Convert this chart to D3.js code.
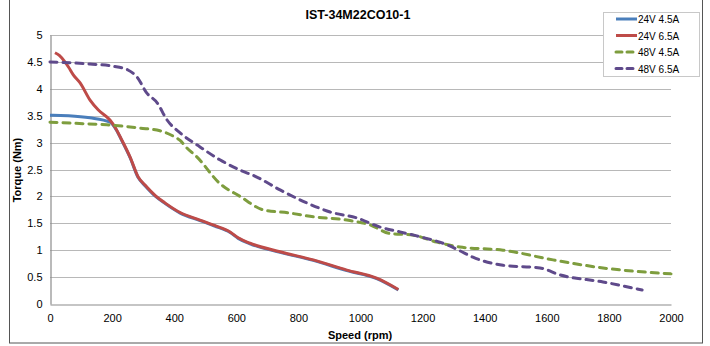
<html>
<head>
  <title>IST-34M22CO10-1</title>
  <script src='https://d3js.org/d3.v7.min.js'></script>
  <style>
    body { margin: 0; background: #fff; }
    text { font-family: 'Liberation Sans', Arial, sans-serif; }
  </style>
</head>
<body>
  <script>

    // speed (rpm) and torque (Nm)
    var speed24_45  = [0, 10, 60, 129, 193, 209, 231, 258, 284, 306, 340, 370, 419, 483, 530, 580, 606, 644, 741, 848, 956, 1052, 1122];
    var torque24_45 = [3.51, 3.51, 3.50, 3.46, 3.38, 3.28, 3.04, 2.72, 2.35, 2.20, 2.00, 1.87, 1.69, 1.55, 1.45, 1.33, 1.22, 1.12, 0.96, 0.81, 0.62, 0.47, 0.26];

    var speed24_65  = [16, 30, 48, 60, 75, 97, 129, 155, 193, 209, 231, 258, 284, 306, 340, 370, 419, 483, 530, 580, 606, 644, 741, 848, 956, 1052, 1122];
    var torque24_65 = [4.67, 4.62, 4.50, 4.40, 4.26, 4.11, 3.79, 3.61, 3.42, 3.29, 3.05, 2.73, 2.36, 2.21, 2.01, 1.88, 1.70, 1.56, 1.46, 1.34, 1.23, 1.13, 0.97, 0.82, 0.63, 0.48, 0.27];

    var speed48_45  = [0, 75, 183, 290, 354, 397, 419, 441, 472, 547, 612, 687, 773, 848, 956, 1031, 1095, 1169, 1246, 1320, 1459, 1620, 1781, 2000];
    var torque48_45 = [3.38, 3.36, 3.33, 3.27, 3.22, 3.12, 3.04, 2.90, 2.74, 2.24, 2.00, 1.75, 1.69, 1.62, 1.56, 1.47, 1.31, 1.28, 1.15, 1.06, 1.00, 0.82, 0.67, 0.56];

    var speed48_65  = [0, 129, 203, 251, 280, 312, 345, 377, 419, 483, 547, 612, 666, 741, 827, 902, 988, 1063, 1127, 1192, 1279, 1320, 1362, 1459, 1578, 1643, 1781, 1907];
    var torque48_65 = [4.50, 4.46, 4.42, 4.35, 4.22, 3.92, 3.74, 3.42, 3.18, 2.92, 2.68, 2.49, 2.36, 2.12, 1.88, 1.71, 1.60, 1.43, 1.34, 1.25, 1.10, 0.99, 0.87, 0.72, 0.67, 0.54, 0.41, 0.26];

    var seriesNames = ['24V 4.5A', '24V 6.5A', '48V 4.5A', '48V 6.5A'];
    var xTicks = [0, 200, 400, 600, 800, 1000, 1200, 1400, 1600, 1800, 2000];
    var yTicks = [0, 0.5, 1, 1.5, 2, 2.5, 3, 3.5, 4, 4.5, 5];

    var colors = ['#4a7ebb', '#be4b48', '#7e9d3e', '#5f4a8b'];
    var dashed = [false, false, true, true];

    var series = [
      d3.zip(speed24_45, torque24_45),
      d3.zip(speed24_65, torque24_65),
      d3.zip(speed48_45, torque48_45),
      d3.zip(speed48_65, torque48_65)
    ];

    var width = 710,
        height = 346;

    var svg = d3.select('body')
      .append('svg')
      .attr('width', width)
      .attr('height', height);

    // outer frame
    svg.append('rect')
      .attr('x', 9.5).attr('y', -5)
      .attr('width', 693).attr('height', 348)
      .attr('fill', 'none')
      .attr('stroke', '#555');

    var x = d3.scaleLinear().domain([0, 2000]).range([50, 671]);
    var y = d3.scaleLinear().domain([0, 5]).range([304, 35]);

    // grid
    svg.append('g')
      .selectAll('line')
      .data(yTicks.filter(d => d > 0))
      .enter()
      .append('line')
      .attr('x1', x(0)).attr('x2', x(2000))
      .attr('y1', d => Math.round(y(d)) + 0.5)
      .attr('y2', d => Math.round(y(d)) + 0.5)
      .attr('stroke', '#b8b8b8')
      .attr('stroke-width', 1.2);

    // axes
    var xAxis = svg.append('g')
      .attr('transform', 'translate(0,' + (Math.round(y(0)) + 0.5) + ')')
      .call(d3.axisBottom(x).tickValues(xTicks).tickSize(0).tickPadding(10).tickFormat(d3.format('d')));
    var yAxis = svg.append('g')
      .attr('transform', 'translate(' + (Math.round(x(0)) + 0.5) + ',0)')
      .call(d3.axisLeft(y).tickValues(yTicks).tickSize(0).tickPadding(8).tickFormat(d => d));

    [xAxis, yAxis].forEach(a => {
      a.select('.domain').attr('stroke', '#8c8c8c').attr('stroke-width', 1.2);
      a.selectAll('text')
        .attr('font-size', 11)
        .attr('fill', '#000')
        .style('font-family', "'Liberation Sans', Arial, sans-serif");
    });

    // lines
    var line = d3.line()
      .x(d => x(d[0]))
      .y(d => y(d[1]))
      .curve(d3.curveMonotoneX);

    svg.append('g')
      .selectAll('path')
      .data(series)
      .enter()
      .append('path')
      .attr('d', line)
      .attr('fill', 'none')
      .attr('stroke', (d, i) => colors[i])
      .attr('stroke-width', 3)
      .attr('stroke-linejoin', 'round')
      .attr('stroke-linecap', (d, i) => dashed[i] ? 'round' : 'butt')
      .attr('stroke-dasharray', (d, i) => dashed[i] ? '7,6' : null);

    // title and axis labels
    svg.append('text')
      .attr('x', 358).attr('y', 19)
      .attr('text-anchor', 'middle')
      .attr('font-size', 12.5)
      .attr('font-weight', 'bold')
      .text('IST-34M22CO10-1');

    svg.append('text')
      .attr('x', 360).attr('y', 339)
      .attr('text-anchor', 'middle')
      .attr('font-size', 11)
      .attr('font-weight', 'bold')
      .text('Speed (rpm)');

    svg.append('text')
      .attr('transform', 'translate(21,170) rotate(-90)')
      .attr('text-anchor', 'middle')
      .attr('font-size', 11)
      .attr('font-weight', 'bold')
      .text('Torque (Nm)');

    // legend
    var legend = svg.append('g');
    legend.append('rect')
      .attr('x', 603.5).attr('y', 12.5)
      .attr('width', 96).attr('height', 64)
      .attr('fill', '#fff')
      .attr('stroke', '#c8c8c8');

    var item = legend.selectAll('g.item')
      .data(seriesNames)
      .enter()
      .append('g')
      .attr('class', 'item')
      .attr('transform', (d, i) => 'translate(0,' + (19 + i * 16.5) + ')');

    item.append('line')
      .attr('x1', 616).attr('x2', 637)
      .attr('y1', 0).attr('y2', 0)
      .attr('stroke', (d, i) => colors[i])
      .attr('stroke-width', 3)
      .attr('stroke-linecap', (d, i) => dashed[i] ? 'round' : 'butt')
      .attr('stroke-dasharray', (d, i) => dashed[i] ? '6,5' : null);

    item.append('text')
      .attr('x', 638).attr('y', 4)
      .attr('font-size', 10)
      .text(d => d);

  </script>
</body>
</html>
